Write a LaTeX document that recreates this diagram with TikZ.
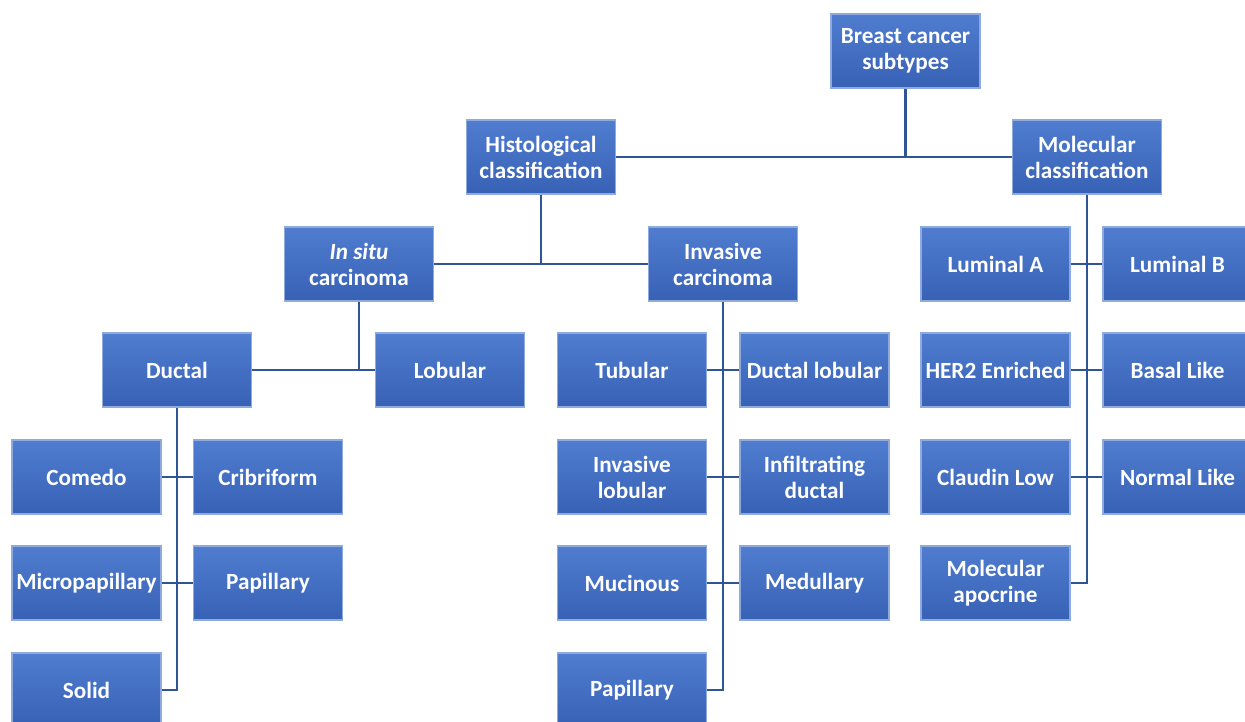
\documentclass[tikz,border=0pt]{standalone}
\usepackage{fontspec}
\setmainfont{Carlito}
\definecolor{boxblue}{RGB}{68,114,196}
\definecolor{boxtop}{RGB}{80,125,208}
\definecolor{boxbot}{RGB}{55,97,180}
\definecolor{linkblue}{RGB}{47,85,151}
\begin{document}
\begin{tikzpicture}[x=0.02cm, y=-0.02cm,
    box/.style={rectangle, minimum width=2.98cm, minimum height=1.48cm, inner sep=0pt,
      top color=boxtop, bottom color=boxbot, draw=boxblue!60!white, line width=0.6pt,
      text=white, font=\fontsize{13.2}{14.8}\selectfont\bfseries, align=center},
    link/.style={draw=linkblue, line width=1.3pt}]
  \useasboundingbox (0,0) rectangle (1245,722);
  % top levels
  \node[box] (subtypes) at (905.5,51) {Breast cancer\\subtypes};
  \node[box] (hist) at (541,157) {Histological\\classification};
  \node[box] (mol) at (1087,157) {Molecular\\classification};
  \node[box] (insitu) at (359,264) {\textit{In situ}\\carcinoma};
  \node[box] (invasive) at (723,264) {Invasive\\carcinoma};
  % in situ branch
  \node[box] (ductal) at (177,370) {Ductal};
  \node[box] (lobular) at (450,370) {Lobular};
  \node[box] (comedo) at (86.5,477) {Comedo};
  \node[box] (cribriform) at (268,477) {Cribriform};
  \node[box] (micropap) at (86.5,583) {Micropapillary};
  \node[box] (papillaryA) at (268,583) {Papillary};
  \node[box] (solid) at (86.5,690) {Solid};
  % invasive branch
  \node[box] (tubular) at (632,370) {Tubular};
  \node[box] (ductlob) at (814.5,370) {Ductal lobular};
  \node[box] (invlob) at (632,477) {Invasive\\lobular};
  \node[box] (infduct) at (814.5,477) {Infiltrating\\ductal};
  \node[box] (mucinous) at (632,583) {Mucinous};
  \node[box] (medullary) at (814.5,583) {Medullary};
  \node[box] (papillaryB) at (632,690) {Papillary};
  % molecular branch
  \node[box] (luma) at (995.5,264) {Luminal A};
  \node[box] (lumb) at (1177.5,264) {Luminal B};
  \node[box] (her2) at (995.5,370) {HER2 Enriched};
  \node[box] (basal) at (1177.5,370) {Basal Like};
  \node[box] (claudin) at (995.5,477) {Claudin Low};
  \node[box] (normal) at (1177.5,477) {Normal Like};
  \node[box] (apocrine) at (995.5,583) {Molecular\\apocrine};
  % connectors
  \draw[link] (subtypes.south) -- (subtypes.south |- hist.east);
  \draw[link] (hist.east) -- (mol.west);
  \draw[link] (hist.south) -- (hist.south |- insitu.east);
  \draw[link] (insitu.east) -- (invasive.west);
  \draw[link] (insitu.south) -- (insitu.south |- ductal.east);
  \draw[link] (ductal.east) -- (lobular.west);
  \draw[link] (ductal.south) |- (solid.east);
  \draw[link] (comedo.east) -- (cribriform.west);
  \draw[link] (micropap.east) -- (papillaryA.west);
  \draw[link] (invasive.south) |- (papillaryB.east);
  \draw[link] (tubular.east) -- (ductlob.west);
  \draw[link] (invlob.east) -- (infduct.west);
  \draw[link] (mucinous.east) -- (medullary.west);
  \draw[link] (mol.south) |- (apocrine.east);
  \draw[link] (luma.east) -- (lumb.west);
  \draw[link] (her2.east) -- (basal.west);
  \draw[link] (claudin.east) -- (normal.west);
\end{tikzpicture}
\end{document}
